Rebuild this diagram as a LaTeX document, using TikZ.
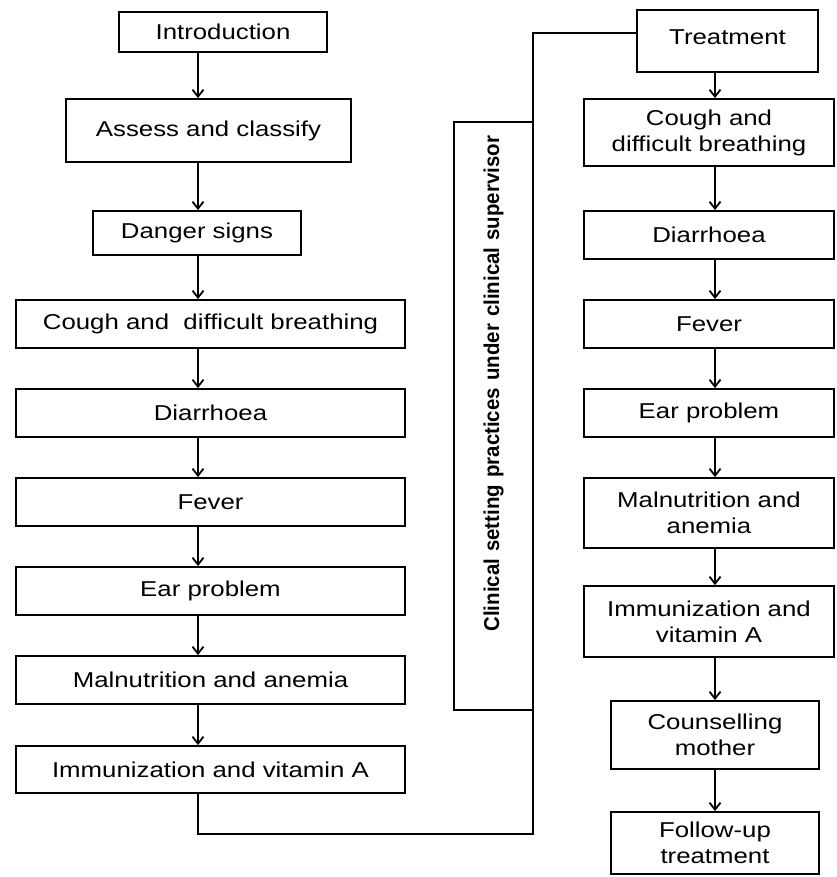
\documentclass[tikz,border=0pt]{standalone}
\usepackage{fontspec}
\setmainfont{Liberation Sans}[FakeStretch=1.2]
\newfontfamily\clinfont{Liberation Sans}[FakeStretch=0.95]
\usetikzlibrary{arrows.meta}
\begin{document}
\begin{tikzpicture}[x=1pt,y=-1pt,line width=1.8pt]
      \tikzstyle{box} = [draw, align=center, inner sep=2pt, font=\fontsize{21.5}{26}\selectfont]
      \tikzstyle{flow} = [-{Straight Barb[length=7pt,width=11pt]}]
        \useasboundingbox (0,0) rectangle (836,877);
        \coordinate (lspine) at (198,0);
        \coordinate (rspine) at (715,0);
          \node[box, minimum width=208pt, minimum height=40pt] (intro) at (223,32) {Introduction};
          \node[box, minimum width=285pt, minimum height=63pt] (assess) at (208.5,130.5) {Assess and classify};
          \node[box, minimum width=208pt, minimum height=44pt] (danger) at (197,233) {Danger signs};
          \node[box, minimum width=389pt, minimum height=48pt] (lcough) at (210.5,324) {Cough and~ difficult breathing};
          \node[box, minimum width=389pt, minimum height=48pt] (ldiarr) at (210.5,413) {Diarrhoea};
          \node[box, minimum width=389pt, minimum height=48pt] (lfever) at (210.5,502) {Fever};
          \node[box, minimum width=389pt, minimum height=48pt] (lear) at (210.5,591) {Ear problem};
          \node[box, minimum width=389pt, minimum height=48pt] (lmaln) at (210.5,680) {Malnutrition and anemia};
          \node[box, minimum width=389pt, minimum height=47pt] (limmun) at (210.5,769.5) {Immunization and vitamin A};
          \node[draw, rotate=90, minimum width=588pt, minimum height=79pt, text width=560pt, align=right, inner xsep=14pt,
            font=\clinfont\bfseries\fontsize{21.5}{26}\selectfont] (clin) at (493.5,416)
            {Clinical setting practices under clinical supervisor};
          \node[box, minimum width=181pt, minimum height=62pt, text depth=8pt] (treat) at (727.5,41) {Treatment};
          \node[box, minimum width=250pt, minimum height=67pt] (rcough) at (709,132.5) {Cough and\\ difficult breathing};
          \node[box, minimum width=250pt, minimum height=48pt] (rdiarr) at (709,235) {Diarrhoea};
          \node[box, minimum width=250pt, minimum height=48pt] (rfever) at (709,324) {Fever};
          \node[box, minimum width=250pt, minimum height=48pt] (rear) at (709,413) {Ear problem};
          \node[box, minimum width=250pt, minimum height=70pt] (rmaln) at (709,513) {Malnutrition and\\ anemia};
          \node[box, minimum width=250pt, minimum height=71pt] (rimmun) at (709,621.5) {Immunization and\\ vitamin A};
          \node[box, minimum width=208pt, minimum height=68pt] (counsel) at (715,735) {Counselling\\ mother};
          \node[box, minimum width=208pt, minimum height=62pt] (follow) at (715,843) {Follow-up\\ treatment};
        \coordinate (loopr) at (533,834);
        \coordinate (loopt) at (533,33);
        \draw[flow] (intro.south -| lspine) -- (assess.north -| lspine);
        \draw[flow] (assess.south -| lspine) -- (danger.north -| lspine);
        \draw[flow] (danger.south -| lspine) -- (lcough.north -| lspine);
        \draw[flow] (lcough.south -| lspine) -- (ldiarr.north -| lspine);
        \draw[flow] (ldiarr.south -| lspine) -- (lfever.north -| lspine);
        \draw[flow] (lfever.south -| lspine) -- (lear.north -| lspine);
        \draw[flow] (lear.south -| lspine) -- (lmaln.north -| lspine);
        \draw[flow] (lmaln.south -| lspine) -- (limmun.north -| lspine);
        \draw (limmun.south -| lspine) |- (loopr) -- (loopt) -- (treat.west |- loopt);
        \draw[flow] (treat.south -| rspine) -- (rcough.north -| rspine);
        \draw[flow] (rcough.south -| rspine) -- (rdiarr.north -| rspine);
        \draw[flow] (rdiarr.south -| rspine) -- (rfever.north -| rspine);
        \draw[flow] (rfever.south -| rspine) -- (rear.north -| rspine);
        \draw[flow] (rear.south -| rspine) -- (rmaln.north -| rspine);
        \draw[flow] (rmaln.south -| rspine) -- (rimmun.north -| rspine);
        \draw[flow] (rimmun.south -| rspine) -- (counsel.north -| rspine);
        \draw[flow] (counsel.south -| rspine) -- (follow.north -| rspine);
\end{tikzpicture}
\end{document}
